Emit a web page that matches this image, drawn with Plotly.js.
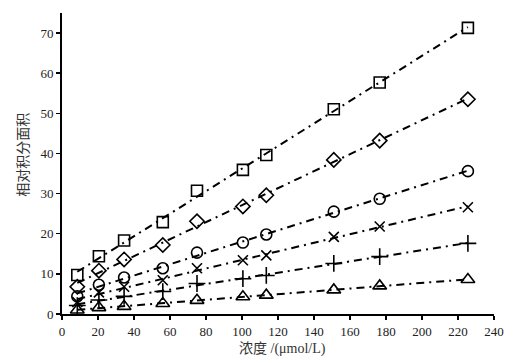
<!DOCTYPE html>
<html>
<head>
<meta charset="utf-8">
<script src="https://cdn.plot.ly/plotly-3.0.1.min.js"></script>
<style>html,body{margin:0;padding:0;background:#fff;}#chart{width:514px;height:363px;}</style>
</head>
<body>
<div id="chart"></div>
<script>
// Concentration (µmol/L)
var concentration = [8.5, 20.5, 34.5, 56, 75, 100.5, 113.5, 151, 176.5, 225.5];
// Relative integrated area, one series per marker
var seriesSquare  = [9.7, 14.4, 18.3, 22.9, 30.7, 35.9, 39.6, 51.0, 57.7, 71.3];
var seriesDiamond = [6.8, 10.8, 13.6, 17.2, 23.1, 26.8, 29.6, 38.4, 43.2, 53.5];
var seriesCircle  = [4.4, 7.3, 9.1, 11.4, 15.3, 17.8, 19.8, 25.5, 28.7, 35.6];
var seriesX       = [3.0, 5.4, 6.8, 8.4, 11.4, 13.4, 14.6, 19.2, 21.8, 26.6];
var seriesPlus    = [2.1, 3.5, 4.4, 5.6, 7.6, 8.8, 9.6, 12.6, 14.3, 17.6];
var seriesTri     = [1.0, 1.6, 1.9, 2.6, 3.4, 4.3, 4.7, 6.0, 7.0, 8.6];
var xTitle = '浓度 /(μmol/L)';
var yTitle = '相对积分面积';

var seriesList = [seriesSquare, seriesDiamond, seriesCircle, seriesX, seriesPlus, seriesTri];
var symbols = ['square-open', 'diamond-open', 'circle-open', 'x-thin-open', 'cross-thin-open', 'triangle-up-open'];
var sizes = [11, 11, 11, 10, 12, 12];

function fit(xs, ys) {
  var n = xs.length, sx = 0, sy = 0, sxx = 0, sxy = 0;
  for (var i = 0; i < n; i++) { sx += xs[i]; sy += ys[i]; sxx += xs[i]*xs[i]; sxy += xs[i]*ys[i]; }
  var b = (n*sxy - sx*sy) / (n*sxx - sx*sx);
  var a = (sy - b*sx) / n;
  return {a: a, b: b};
}

var traces = [];
var xMin = concentration[0], xMax = concentration[concentration.length - 1];
seriesList.forEach(function (ys, k) {
  var f = fit(concentration, ys);
  traces.push({
    x: [xMin, xMax], y: [f.a + f.b*xMin, f.a + f.b*xMax],
    mode: 'lines', type: 'scatter', hoverinfo: 'skip',
    line: {color: '#000', width: 2, dash: '8px,5px,2px,5px'}
  });
  traces.push({
    x: concentration, y: ys, mode: 'markers', type: 'scatter',
    marker: {symbol: symbols[k], size: sizes[k], color: '#000', line: {color: '#000', width: 1.6}}
  });
});

var tickFont = {family: 'Liberation Serif, serif', size: 13, color: '#222'};
var titleFont = {family: 'Liberation Serif, Noto Sans CJK SC, serif', size: 14, color: '#333'};

var layout = {
  width: 514, height: 363,
  margin: {l: 62, r: 20, t: 13, b: 49},
  paper_bgcolor: '#fff', plot_bgcolor: '#fff',
  showlegend: false,
  font: {family: 'Liberation Serif, serif', size: 13, color: '#222'},
  xaxis: {
    range: [0, 240], dtick: 20, tick0: 0,
    showgrid: false, zeroline: false,
    showline: true, linecolor: '#000', linewidth: 2,
    ticks: 'outside', ticklen: 4, tickwidth: 1.5, tickcolor: '#000',
    tickfont: tickFont
  },
  yaxis: {
    range: [0, 75], dtick: 10, tick0: 0,
    showgrid: false, zeroline: false,
    showline: true, linecolor: '#000', linewidth: 2,
    ticks: 'outside', ticklen: 4, tickwidth: 1.5, tickcolor: '#000',
    tickfont: tickFont
  },
  annotations: [
    {text: xTitle, xref: 'paper', yref: 'paper', x: 0.51, y: -0.117,
     xanchor: 'center', yanchor: 'middle', showarrow: false, font: titleFont},
    {text: yTitle, xref: 'paper', yref: 'paper', x: -0.092, y: 0.53, textangle: -90,
     xanchor: 'center', yanchor: 'middle', showarrow: false,
     font: {family: 'Noto Sans CJK SC, serif', size: 14, color: '#333'}}
  ]
};

Plotly.newPlot('chart', traces, layout, {displayModeBar: false, staticPlot: true});
</script>
</body>
</html>
